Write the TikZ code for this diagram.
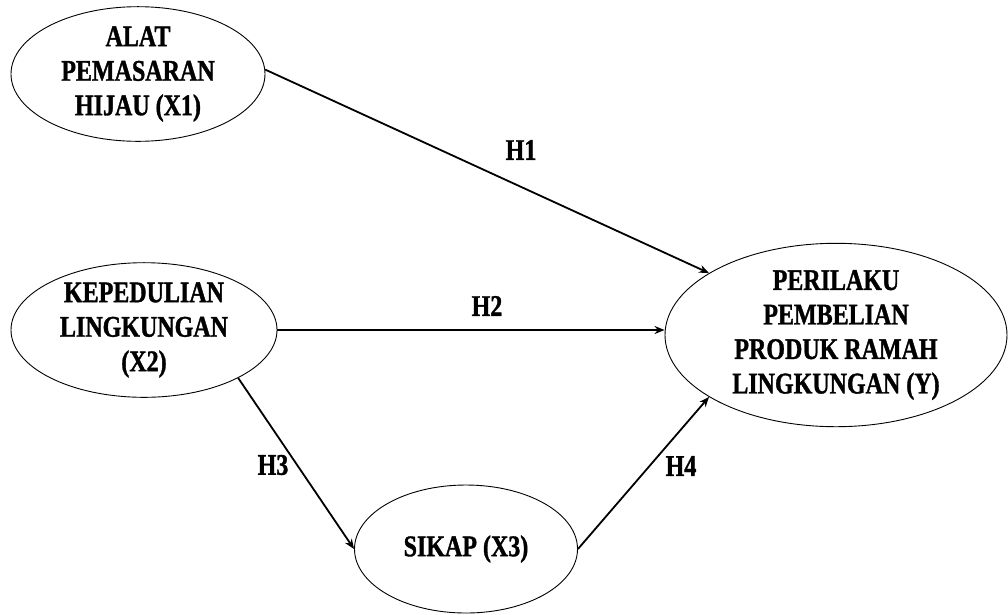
\documentclass[tikz,border=0pt]{standalone}
\usepackage{fontspec}
\newfontfamily\condbold{Liberation Serif Bold}[FakeStretch=0.8,FakeBold=1.2]
\usetikzlibrary{shapes.geometric,arrows.meta}

\begin{document}
\begin{tikzpicture}[x=1pt,y=-1pt,
  thick,var node/.style={ellipse,draw,line width=0.9pt,inner sep=0pt,align=center,
    font=\condbold\fontsize{30}{34.5}\selectfont},
  hyp/.style={font=\condbold\fontsize{30}{34.5}\selectfont}]

  \useasboundingbox (0,0) rectangle (1008,614);

  \node[var node,minimum width=254pt,minimum height=127pt] (x1) at (138,74) {ALAT\\PEMASARAN\\HIJAU (X1)};
  \node[var node,minimum width=266pt,minimum height=130pt] (x2) at (144,330) {KEPEDULIAN\\LINGKUNGAN\\(X2)};
  \node[var node,minimum width=223pt,minimum height=128pt] (x3) at (466,549) {SIKAP (X3)};
  \node[var node,minimum width=342pt,minimum height=165pt] (y) at (836,335) {PERILAKU\\PEMBELIAN\\PRODUK RAMAH\\LINGKUNGAN (Y)};

  \node[hyp] (h1) at (521,150) {H1};
  \node[hyp] (h2) at (487,306) {H2};
  \node[hyp] (h3) at (273,465) {H3};
  \node[hyp] (h4) at (681,466) {H4};

  \path[line width=1.8pt,-{Stealth[length=10pt,width=8pt]}]
   (x1.2) edge (y.154)
   (x2.east) edge (x2.east -| y.west)
   (x2.-27) edge (x3.west)
   (x3.east) edge (y.206);
\end{tikzpicture}
\end{document}
